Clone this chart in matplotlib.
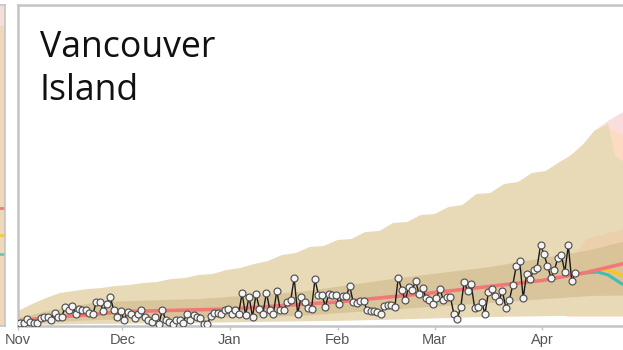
import matplotlib
matplotlib.use("Agg")
import matplotlib.pyplot as plt
import matplotlib.dates as mdates
import numpy as np
import pandas as pd

# ---- data -------------------------------------------------------------
start = pd.Timestamp("2020-11-01")
end = pd.Timestamp("2021-04-30")

# daily reported cases, Vancouver Island (Nov 1 - Apr 10)
cases = [
    1.4, 1.4, 3.4, 2.2, 1.5, 1.4, 3.9, 4.7, 4.7, 2.9, 6.7, 4.7, 4.5, 9.5, 7.9,
    10.0, 6.2, 8.4, 8.0, 8.0, 6.7, 6.2, 12.0, 12.0, 7.5, 11.2, 14.5, 7.9, 4.5, 7.5,
    2.9, 7.2, 6.2, 3.9, 6.2, 8.0, 4.5, 2.9, 2.2, 4.5, 0.9, 7.9, 2.9, 2.2, 0.9,
    2.9, 2.9, 1.7, 5.9, 2.9, 5.5, 4.5, 3.9, 1.2,
    1.2, 5.0, 6.7, 6.7, 5.9, 8.0, 8.7, 6.2, 8.0, 6.2, 16.4, 5.4, 14.7, 4.5, 15.9,
    8.7, 6.2, 16.7, 8.0, 6.2, 17.5, 7.9, 7.9, 12.0, 12.9, 23.9, 6.2, 14.5, 12.0, 9.2,
    8.7, 23.4, 15.5, 15.5, 9.7, 16.2, 15.4, 15.4, 11.2, 14.9, 14.9, 20.0, 12.0, 11.7,
    12.5, 12.5, 8.0, 7.5, 7.5, 7.0, 6.2, 10.0, 10.5, 10.5, 9.5, 24.2,
    17.9, 12.9, 19.5, 17.9, 22.5, 15.9, 18.9, 13.9, 12.9, 11.2, 14.2, 18.7, 12.9,
    14.5, 14.7, 6.2, 3.4, 9.5, 22.0, 17.5, 20.9, 9.2, 9.5, 12.0, 6.2, 17.0, 18.4,
    15.0, 12.5, 17.5, 9.2, 12.9, 20.5, 30.0, 32.5, 13.9, 26.2, 23.4, 27.9, 29.2,
    40.4, 35.9, 30.0, 24.2, 27.9, 34.2, 35.4, 27.0, 40.4, 22.5, 26.7,
]

# ensemble envelope (day offset from Nov 1, upper, lower)
outer_days = [0, 4, 8, 12, 16, 20, 24, 28, 32, 36, 40, 44, 48, 52, 56, 60, 64, 68,
              72, 76, 80, 84, 88, 92, 96, 100, 104, 108, 112, 116, 120, 124, 128,
              132, 136, 140, 144, 148, 152, 156, 160, 163, 166, 170, 172, 176, 180]
outer_hi = [7.5, 11, 14, 16.5, 17.5, 18.5, 19, 20, 20.5, 21.5, 22, 23.5, 24, 25.5,
            26, 28, 29, 31, 32.5, 35.5, 36.5, 39.5, 40, 43, 43.5, 47, 47.5, 51.5, 52,
            55.5, 56, 59.5, 60.5, 66, 66.5, 71, 72, 76.5, 77.5, 82, 86, 91, 97.5,
            101, 85, 80, 78]
outer_lo = [0.5, 0.6, 0.7, 0.8, 0.9, 1.0, 1.0, 1.1, 1.2, 1.3, 1.4, 1.5, 1.5, 1.6,
            1.7, 1.8, 1.9, 2.0, 2.1, 2.2, 2.3, 2.4, 2.5, 2.6, 2.7, 2.9, 3.0, 3.2,
            3.4, 3.6, 3.8, 4.0, 4.2, 4.4, 4.5, 4.6, 4.7, 4.8, 4.9, 5.0, 5.0, 5.0,
            5.0, 5.0, 5.0, 5.0, 5.0]

# inner (50%) envelope
inner_days = [0, 10, 23, 52, 81, 110, 136, 165, 174, 180]
inner_hi = [4, 8, 12, 13.5, 17, 24, 29.5, 38, 42, 44]
inner_lo = [1, 2, 3, 4, 5, 8.5, 11.5, 15, 15.2, 15.5]

# ensemble median
med_days = [0, 10, 20, 30, 61, 92, 120, 151, 163, 174, 180]
med_vals = [2.5, 4.5, 5.5, 7.2, 8.5, 12, 16.7, 22.8, 26.5, 31, 33]

# individual model projections after the last report
proj_days = [158, 162, 166, 170, 174, 180]
pink_hi = [84, 90, 98, 103, 107, 108]
peach_hi = [84, 90, 96, 99, 96, 94]
proj_lo = [5, 5, 5, 5, 5, 5]

orange_days = [160, 164, 174, 180]
orange_hi = [36, 44, 48.5, 50]
orange_lo = [15, 16, 17, 18]

yellow_days = [163, 167, 170, 174, 180]
yellow_vals = [26.5, 28, 28, 25.5, 23]
teal_days = [163, 167, 170, 174, 180]
teal_vals = [26.5, 27, 25.5, 21, 18]

# neighbouring region (right end of its projection fan)
nb_x = [0, 1]
nb_hi = [160, 160]
nb_tan = [150, 150]
nb_red = [59, 59]
nb_yellow = [45.5, 45.5]
nb_teal = [36, 36]

month_ticks = ["2020-11-01", "2020-12-01", "2021-01-01", "2021-02-01",
               "2021-03-01", "2021-04-01"]
title_lines = ["Vancouver", "Island"]


def to_dates(days):
    return start + pd.to_timedelta(np.asarray(days, dtype=float), unit="D")


# ---- figure -----------------------------------------------------------
W, H = 623, 350
fig = plt.figure(figsize=(W / 100, H / 100), dpi=100)

spine_c = "#c4c4c4"
ax_top = 5
ax_bot = 326
left_px = 18.3
px_per_day = 3.47
width_px = (end - start).days * px_per_day

# neighbouring panel sliver on the far left
nb = fig.add_axes([(5 - 200) / W, 1 - ax_bot / H, 200 / W, (ax_bot - ax_top) / H])
nb.fill_between(nb_x, 0, nb_hi, color="#f6dfd9", lw=0)
nb.fill_between(nb_x, 0, nb_tan, color="#efd8b9", lw=0)
nb.plot(nb_x, nb_red, color="#f07b7b", lw=2)
nb.plot(nb_x, nb_yellow, color="#f3cc3a", lw=2)
nb.plot(nb_x, nb_teal, color="#66c7bd", lw=2)
nb.set_xlim(0, 1)
nb.set_ylim(0, 160.5)
nb.set_xticks([])
nb.set_yticks([])
for s in nb.spines.values():
    s.set_color(spine_c)
    s.set_linewidth(1.2)

# main panel
ax = fig.add_axes([left_px / W, 1 - ax_bot / H, width_px / W, (ax_bot - ax_top) / H])

pd_days = to_dates(proj_days)
ax.fill_between(pd_days, proj_lo, pink_hi, color="#fadede", lw=0)
ax.fill_between(pd_days, proj_lo, peach_hi, color="#fbdcc2", lw=0)
ax.fill_between(to_dates(outer_days), outer_lo, outer_hi, color="#e8d9b7", lw=0)
ax.fill_between(to_dates(orange_days), orange_lo, orange_hi, color="#efc9a3",
                alpha=0.6, lw=0)
ax.fill_between(to_dates(inner_days), inner_lo, inner_hi, color="#d6c194",
                alpha=0.8, lw=0)

ax.plot(to_dates(yellow_days), yellow_vals, color="#f5c623", lw=2.2)
ax.plot(to_dates(teal_days), teal_vals, color="#3fbfb3", lw=2.2)
ax.plot(to_dates(med_days), med_vals, color="#f27878", lw=2.6,
        solid_capstyle="butt")

obs_dates = start + pd.to_timedelta(np.arange(len(cases)) + 0.5, unit="D")
ax.plot(obs_dates, cases, color="#1a1a1a", lw=1.0, zorder=5)
ax.plot(obs_dates, cases, ls="none", marker="o", ms=5.0, mfc="#f4f4f4",
        mec="#4a4a4a", mew=0.8, zorder=6)

ax.set_xlim(start, end)
ax.set_ylim(0, 160.5)
ax.set_yticks([])
ax.set_xticks(pd.to_datetime(month_ticks))
ax.xaxis.set_major_formatter(mdates.DateFormatter("%b"))
ax.tick_params(axis="x", length=3, width=1, color=spine_c, pad=2,
               labelsize=10.5, labelcolor="#555555")
for lab in ax.get_xticklabels():
    lab.set_fontfamily("Liberation Sans")

for name, s in ax.spines.items():
    s.set_color(spine_c)
    s.set_linewidth(1.8)
ax.spines["right"].set_visible(False)

fig.text(40 / W, 1 - 56.7 / H, title_lines[0], fontsize=25.7,
         family="Open Sans", color="#111111", va="baseline", ha="left")
fig.text(40 / W, 1 - 100 / H, title_lines[1], fontsize=25.7,
         family="Open Sans", color="#111111", va="baseline", ha="left")

fig.savefig("out.png", dpi=100)
